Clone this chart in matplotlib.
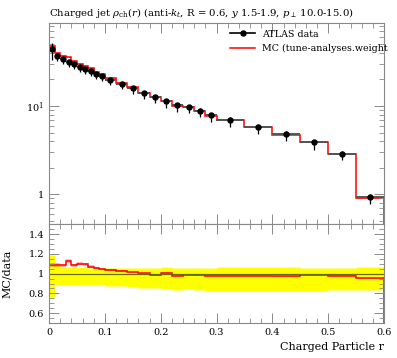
import matplotlib
matplotlib.use("Agg")
import matplotlib.pyplot as plt
from matplotlib.ticker import MultipleLocator, LogLocator, NullFormatter, FixedLocator
from matplotlib.lines import Line2D

plt.rcParams["font.family"] = ["DejaVu Serif"]
plt.rcParams["mathtext.fontset"] = "dejavuserif"

# bin edges in r
edges = [0.0, 0.01, 0.02, 0.03, 0.04, 0.05, 0.06, 0.07, 0.08, 0.09, 0.10,
         0.12, 0.14, 0.16, 0.18, 0.20, 0.22, 0.24, 0.26, 0.28, 0.30,
         0.35, 0.40, 0.45, 0.50, 0.55, 0.60]

# ATLAS data rho_ch(r)
data = [43.8, 36.5, 34.3, 31.5, 29.6, 27.4, 26.0, 24.9, 22.8, 21.9,
        19.8, 17.9, 16.0, 14.0, 12.7, 11.4, 10.3, 9.75, 8.85, 7.96,
        7.0, 5.83, 4.85, 3.91, 2.89, 0.94]

# data uncertainty band, relative to data (upper / lower edge)
band_hi = [1.19, 1.10, 1.07, 1.065, 1.065, 1.065, 1.065, 1.06, 1.06, 1.06,
           1.06, 1.06, 1.06, 1.06, 1.06, 1.063, 1.06, 1.06, 1.06, 1.06,
           1.063, 1.063, 1.07, 1.06, 1.06, 1.07]
band_lo = [0.765, 0.88, 0.88, 0.885, 0.89, 0.89, 0.89, 0.885, 0.88, 0.88,
           0.875, 0.87, 0.865, 0.858, 0.85, 0.84, 0.838, 0.845, 0.838, 0.825,
           0.82, 0.82, 0.826, 0.82, 0.836, 0.836]

# MC / data
ratio = [1.09, 1.088, 1.085, 1.13, 1.085, 1.10, 1.093, 1.07, 1.057, 1.05,
         1.037, 1.023, 1.013, 1.003, 0.986, 1.005, 0.98, 0.99, 0.987, 0.98,
         0.98, 0.98, 0.973, 0.99, 0.98, 0.953]

# MC statistical uncertainty (relative)
mc_err = [0.02, 0.02, 0.015, 0.02, 0.015, 0.015, 0.015, 0.012, 0.012, 0.01,
          0.01, 0.01, 0.008, 0.008, 0.008, 0.008, 0.006, 0.006, 0.006, 0.006,
          0.005, 0.005, 0.005, 0.005, 0.005, 0.005]

xticks = [0.0, 0.1, 0.2, 0.3, 0.4, 0.5, 0.6]
xticklabels = ["0", "0.1", "0.2", "0.3", "0.4", "0.5", "0.6"]
rticks = [0.6, 0.8, 1.0, 1.2, 1.4]
rticklabels = ["0.6", "0.8", "1", "1.2", "1.4"]

centers = [(a + b) / 2 for a, b in zip(edges[:-1], edges[1:])]
halfw = [(b - a) / 2 for a, b in zip(edges[:-1], edges[1:])]
mc = [d * r for d, r in zip(data, ratio)]
err_up = [d * (h - 1) for d, h in zip(data, band_hi)]
err_dn = [d * (1 - l) for d, l in zip(data, band_lo)]

fig = plt.figure(figsize=(3.97, 3.58), dpi=100)
L, W = 49 / 397, 335 / 397
ax = fig.add_axes([L, 1 - 224.3 / 358, W, 201.3 / 358])
rx = fig.add_axes([L, 1 - 323 / 358, W, 98.7 / 358])

# main panel
ax.stairs([m * (1 + e) for m, e in zip(mc, mc_err)], edges,
          baseline=[m * (1 - e) for m, e in zip(mc, mc_err)],
          fill=True, color="#ff0000", alpha=0.3, lw=0)
ax.stairs(mc, edges, color="#ff0000", lw=1.1)
ax.errorbar(centers, data, xerr=halfw, fmt="none", ecolor="#555555", elinewidth=1.4)
ax.errorbar(centers, data, yerr=[err_dn, err_up], fmt="o", color="black",
            ms=3.6, elinewidth=0.9, capsize=0)
ax.set_yscale("log")
ax.set_xlim(0, 0.6)
ax.set_ylim(0.457, 87.1)

# ratio panel
rx.stairs(band_hi, edges, baseline=band_lo, fill=True, color="#ffff00",
          edgecolor="#ffff88", lw=0.5)
rx.axhline(1, color="#6b6b20", lw=0.9)
rx.stairs([r * (1 + e) for r, e in zip(ratio, mc_err)], edges,
          baseline=[r * (1 - e) for r, e in zip(ratio, mc_err)],
          fill=True, color="#ff0000", alpha=0.3, lw=0)
rx.stairs(ratio, edges, color="#ff0000", lw=1.1)
rx.set_xlim(0, 0.6)
rx.set_ylim(0.5, 1.5)

for a in (ax, rx):
    a.tick_params(which="both", direction="in", top=True, right=True,
                  color="#888888", labelsize=7)
    a.tick_params(which="major", length=7, width=0.7)
    a.tick_params(which="minor", length=3.5, width=0.6)
    a.xaxis.set_major_locator(FixedLocator(xticks))
    a.xaxis.set_minor_locator(MultipleLocator(0.02))
    for s in a.spines.values():
        s.set_color("#888888")
        s.set_linewidth(0.8)

ax.yaxis.set_minor_locator(LogLocator(base=10, subs=range(2, 10), numticks=20))
ax.yaxis.set_minor_formatter(NullFormatter())
ax.set_yticks([1, 10])
ax.set_yticklabels(["1", r"$10^1$"])
ax.tick_params(labelbottom=False)

rx.yaxis.set_major_locator(FixedLocator(rticks))
rx.yaxis.set_minor_locator(MultipleLocator(0.05))
rx.set_yticklabels(rticklabels)
rx.set_xticklabels(xticklabels)

rx.set_ylabel("MC/data", fontsize=8)
rx.yaxis.set_label_coords(-0.11, 0.5)
rx.set_xlabel("Charged Particle r", fontsize=8, loc="right")

fig.text(L, 1 - 16 / 358,
         r"Charged jet $\rho_{\rm ch}(r)$ (anti-$k_t$, R = 0.6, $y$ 1.5-1.9, $p_\perp$ 10.0-15.0)",
         fontsize=7.3, ha="left", va="baseline")

handles = [Line2D([], [], color="black", marker="o", ms=3.6, lw=1.2),
           Line2D([], [], color="#ff0000", lw=1.1)]
leg = ax.legend(handles, ["ATLAS data", "MC (tune-analyses.weight"],
                loc="upper left", bbox_to_anchor=(0.53, 0.985), frameon=False,
                fontsize=6.8, handlelength=2.6, handletextpad=0.8,
                labelspacing=0.55, borderaxespad=0)

fig.savefig("out.png", dpi=100)
